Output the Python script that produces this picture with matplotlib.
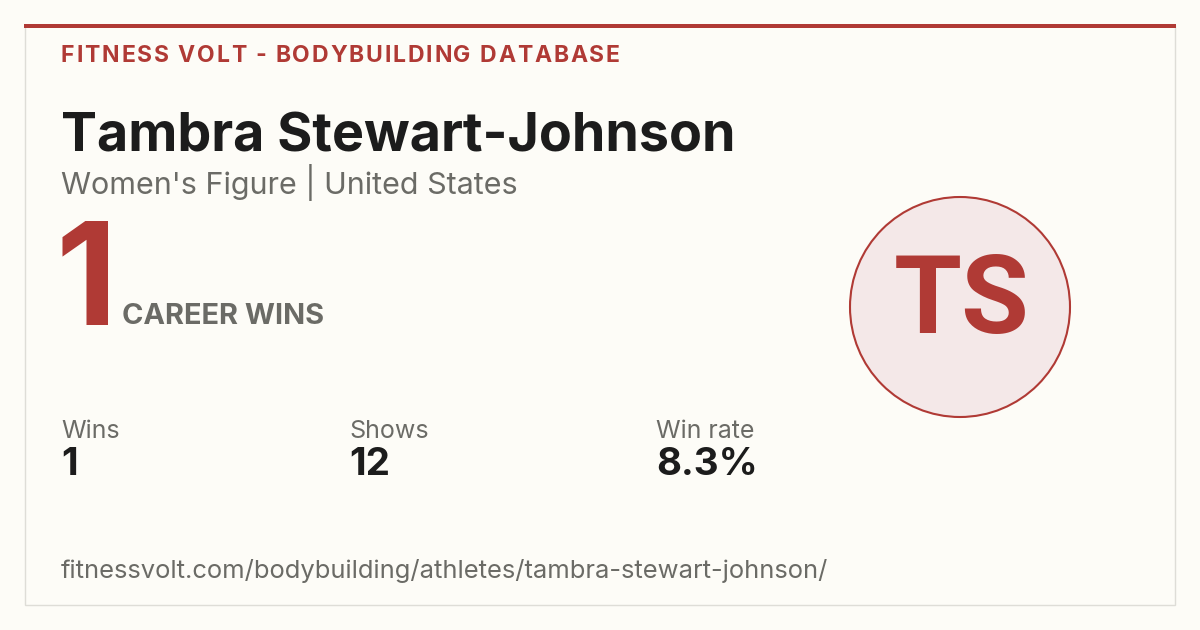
import matplotlib
matplotlib.use("Agg")
import matplotlib.pyplot as plt
from matplotlib.patches import Rectangle, Circle

# card content
site_label = "FITNESS VOLT - BODYBUILDING DATABASE"
athlete_name = "Tambra Stewart-Johnson"
division = "Women's Figure"
country = "United States"
initials = "TS"
stat_labels = ["Wins", "Shows", "Win rate"]
wins = 1
shows = 12
url = "fitnessvolt.com/bodybuilding/athletes/tambra-stewart-johnson/"

win_rate = wins / shows * 100
stat_values = [str(wins), str(shows), "%.1f%%" % win_rate]

BG = "#FDFCF7"
RED = "#B03A35"
DARK = "#1C1C1C"
GRAY = "#6B6B66"
FONT = ["Inter", "DejaVu Sans"]

W, H = 1200, 630
fig = plt.figure(figsize=(W / 100, H / 100), dpi=100, facecolor=BG)
ax = fig.add_axes([0, 0, 1, 1])
ax.set_xlim(0, W)
ax.set_ylim(H, 0)
ax.axis("off")

def px(size):
	# font size in pixels -> points
	return size * 0.72

def spaced_text(x, y, s, size, spacing, **kw):
	# draw text one glyph at a time with extra letter spacing
	r = fig.canvas.get_renderer()
	for ch in s:
		t = ax.text(x, y, ch, fontsize=px(size), va="baseline", ha="left", **kw)
		bb = t.get_window_extent(renderer=r)
		x += bb.width + spacing

# card frame
ax.add_patch(Rectangle((24.5, 24.5), 1150, 580, facecolor=BG, edgecolor="#DEDDD7", lw=1))
ax.add_patch(Rectangle((24, 24), 1152, 4, facecolor=RED, edgecolor="none"))

spaced_text(61, 62, site_label, 23, 1.8, color=RED, fontweight="bold", family=FONT)

ax.text(61, 152, athlete_name, fontsize=px(53.8), fontweight="bold", color=DARK, family=FONT, va="baseline")
ax.text(61, 194, division + " | " + country, fontsize=px(30.5), color=GRAY, family=FONT, va="baseline")

ax.text(56, 325, str(wins), fontsize=px(142), fontweight="bold", color=RED, family=FONT, va="baseline")
ax.text(122, 324, "CAREER WINS", fontsize=px(29), fontweight="bold", color=GRAY, family=FONT, va="baseline")

stat_x = [61, 349, 656]
for sx, lab, val in zip(stat_x, stat_labels, stat_values):
	ax.text(sx, 438, lab, fontsize=px(25), color=GRAY, family=FONT, va="baseline")
	ax.text(sx, 475, val, fontsize=px(38.5), fontweight="bold", color=DARK, family=FONT, va="baseline")

ax.text(61, 578, url, fontsize=px(25.6), color=GRAY, family=FONT, va="baseline")

ax.add_patch(Circle((960, 307), 110, facecolor="#F4E8E8", edgecolor=RED, lw=1.5))
ax.text(962, 333, initials, fontsize=px(110), fontweight="bold", color=RED, family=["Roboto", "DejaVu Sans"], ha="center", va="baseline")

fig.savefig("out.png", dpi=100, facecolor=BG)
